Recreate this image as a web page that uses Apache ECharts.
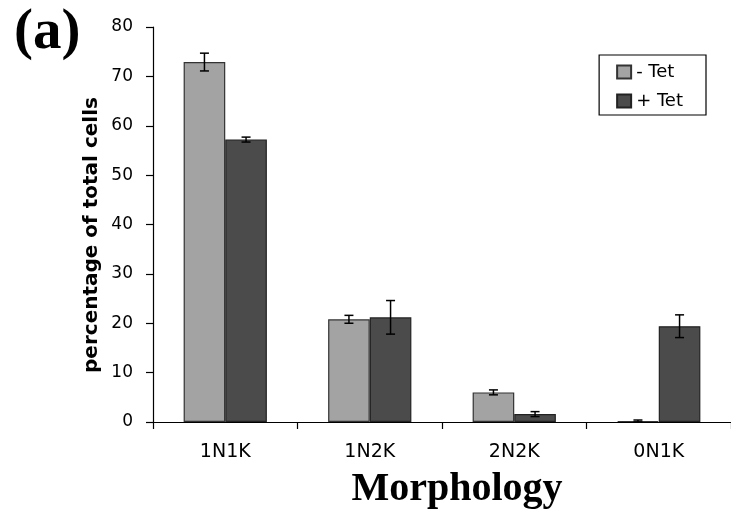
<!DOCTYPE html>
<html><head><meta charset="utf-8">
<script src="https://cdn.jsdelivr.net/npm/echarts@6/dist/echarts.min.js"></script>
<style>html,body{margin:0;padding:0;background:#fff}#c{width:731px;height:512px}</style>
</head><body><div id="c"></div>
<script>
const categories = ['1N1K', '1N2K', '2N2K', '0N1K'];
const minusTet = [72.9, 20.8, 6.0, 0.2];
const minusTetErr = [1.8, 0.8, 0.5, 0.2];
const plusTet = [57.2, 21.2, 1.6, 19.4];
const plusTetErr = [0.5, 3.4, 0.5, 2.3];
const yTicks = [0, 10, 20, 30, 40, 50, 60, 70, 80];

const chart = echarts.init(document.getElementById('c'), null, {renderer: 'canvas'});
const BAR_FRAC = 0.288;
function errSeries(vals, errs, side) {
  return {
    type: 'custom',
    z: 10,
    data: vals.map((v, i) => [i, v, errs[i]]),
    renderItem: function (params, api) {
      const i = api.value(0), v = api.value(1), e = api.value(2);
      const band = api.size([1, 0])[0];
      const off = side * band * BAR_FRAC / 2;
      const top = api.coord([i, v + e]);
      const bot = api.coord([i, Math.max(v - e, 0)]);
      const x = top[0] + off;
      const cap = 4.5;
      const style = {stroke: '#000', lineWidth: 1.5};
      return {type: 'group', children: [
        {type: 'line', shape: {x1: x, y1: top[1], x2: x, y2: bot[1]}, style},
        {type: 'line', shape: {x1: x - cap, y1: top[1], x2: x + cap, y2: top[1]}, style},
        {type: 'line', shape: {x1: x - cap, y1: bot[1], x2: x + cap, y2: bot[1]}, style}
      ]};
    }
  };
}
chart.setOption({
  animation: false,
  backgroundColor: '#fff',
  graphic: [
    {type: 'text', left: 14, top: 5, style: {text: '(a)', font: 'bold 57px "Liberation Serif", serif', fill: '#000'}},
    {type: 'text', x: 457, y: 490, style: {text: 'Morphology', font: 'bold 40px "Liberation Serif", serif', fill: '#000', textAlign: 'center', textVerticalAlign: 'middle'}},
    {type: 'text', x: 92, y: 235, rotation: Math.PI / 2, style: {text: 'percentage of total cells', font: 'bold 20px "DejaVu Sans"', fill: '#000', textAlign: 'center', textVerticalAlign: 'middle'}}
  ],
  legend: {
    right: 25, top: 55,
    orient: 'vertical',
    itemWidth: 14, itemHeight: 13, itemGap: 11,
    padding: [8, 23, 5, 17],
    borderColor: '#000', borderWidth: 1.2, borderRadius: 0,
    textStyle: {fontFamily: 'DejaVu Sans', fontSize: 18, color: '#000'},
    data: [
      {name: '- Tet', icon: 'rect'},
      {name: '+ Tet', icon: 'rect'}
    ]
  },
  grid: {left: 153, width: 583, top: 27, bottom: 90},
  xAxis: {
    type: 'category',
    data: categories,
    axisLine: {lineStyle: {color: '#000', width: 1.2}},
    axisTick: {show: true, length: 7, lineStyle: {color: '#000', width: 1.2}},
    axisLabel: {fontFamily: 'DejaVu Sans', fontSize: 19, color: '#000', margin: 21}
  },
  yAxis: {
    type: 'value',
    min: 0, max: 80, interval: 10,
    splitLine: {show: false},
    axisLine: {show: true, lineStyle: {color: '#000', width: 1.2}},
    axisTick: {show: true, length: 7, lineStyle: {color: '#000', width: 1.2}},
    axisLabel: {fontFamily: 'DejaVu Sans', fontSize: 17, color: '#000', margin: 20,
      formatter: v => yTicks.includes(v) ? String(v) : ''}
  },
  series: [
    {name: '- Tet', type: 'bar', data: minusTet, barWidth: (BAR_FRAC * 100) + '%', barGap: '0%',
      itemStyle: {color: '#a3a3a3', borderColor: '#333', borderWidth: 1.2}},
    {name: '+ Tet', type: 'bar', data: plusTet, barWidth: (BAR_FRAC * 100) + '%', barGap: '0%',
      itemStyle: {color: '#4b4b4b', borderColor: '#222', borderWidth: 1.2}},
    errSeries(minusTet, minusTetErr, -1),
    errSeries(plusTet, plusTetErr, 1)
  ]
});
</script></body></html>
